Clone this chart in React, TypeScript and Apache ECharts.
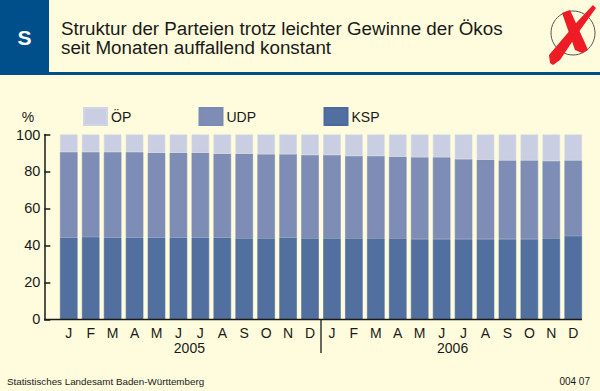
import React, { useEffect, useRef } from "react";
import * as echarts from "echarts";

const months = ["J","F","M","A","M","J","J","A","S","O","N","D","J","F","M","A","M","J","J","A","S","O","N","D"];
const years = ["2005", "2006"];
const ksp = [44.2,44.5,44.2,44.2,44.2,44.2,44.2,44.2,43.7,43.7,44.2,43.7,43.7,43.7,43.7,43.7,43.4,43.4,43.4,43.4,43.4,43.4,43.7,45.1];
const kspUdp = [90.5,90.5,90.5,90.5,90.1,90.1,90.1,89.6,89.6,89.3,89.3,88.9,88.9,88.4,88.4,88,87.7,87.7,86.7,86.4,86,86,85.7,86];
const udp = kspUdp.map((v, i) => +(v - ksp[i]).toFixed(1));
const oep = kspUdp.map((v) => +(100 - v).toFixed(1));
const seriesNames = ["ÖP", "UDP", "KSP"];
const titleLines = ["Struktur der Parteien trotz leichter Gewinne der Ökos", "seit Monaten auffallend konstant"];
const font = "Liberation Sans";
const ink = "#1a1a1a";
const bg = "#fefcdc";
const blue = "#004f8a";

export default function App() {
  const ref = useRef<HTMLDivElement>(null);
  useEffect(() => {
    document.body.style.margin = "0";
    const chart = echarts.init(ref.current!, null, { renderer: "svg" });
    const legendAt = (name: string, left: number) => ({
      data: [name], left, top: 107, itemWidth: 23, itemHeight: 17, itemGap: 0, padding: 0, orient: "horizontal" as const,
      selectedMode: false, icon: "rect", textStyle: { fontFamily: font, fontSize: 14, color: ink, padding: [0, 0, 1, -1] },
    });
    const bar = (name: string, data: number[], color: string, edge: string) => ({
      name, type: "bar" as const, stack: "t", data, barWidth: 17.5, xAxisIndex: 0,
      itemStyle: { color, borderColor: edge, borderWidth: 0.6 },
    });
    chart.setOption({
      animation: false,
      backgroundColor: bg,
      textStyle: { fontFamily: font },
      title: { text: titleLines.join("\n"), left: 61, top: 18.5, padding: 0,
        textStyle: { fontFamily: font, fontSize: 18.8, lineHeight: 19, fontWeight: "normal", color: ink } },
      legend: [legendAt("ÖP", 83), legendAt("UDP", 198.5), legendAt("KSP", 323.5)],
      grid: { left: 57.8, top: 134.5, width: 526.4, height: 184.8 },
      xAxis: [
        { type: "category", data: months, axisLine: { show: false }, axisTick: { show: false },
          axisLabel: { interval: 0, margin: 7, fontFamily: font, fontSize: 14, color: ink } },
        { type: "category", position: "bottom", offset: 15, data: years, axisLine: { show: false }, axisTick: { show: false },
          axisLabel: { interval: 0, margin: 7, fontFamily: font, fontSize: 14, color: ink } },
      ],
      yAxis: {
        type: "value", min: 0, max: 100, interval: 20, offset: 13.5,
        name: "%", nameLocation: "end", nameGap: 11,
        nameTextStyle: { fontFamily: font, fontSize: 14, color: ink, align: "right", padding: [0, 10, 0, 0] },
        splitLine: { show: false },
        axisLine: { show: true, lineStyle: { color: ink, width: 1.5 } },
        axisTick: { show: true, inside: true, length: 6, lineStyle: { color: ink, width: 1.5 } },
        axisLabel: { margin: 4, fontFamily: font, fontSize: 14.5, color: ink },
      },
      series: [
        bar(seriesNames[2], ksp, "#52709f", "#4a699f"),
        bar(seriesNames[1], udp, "#7e8db6", "#7a8ab6"),
        bar(seriesNames[0], oep, "#c9cee2", "#d2d6e4"),
      ],
      graphic: [
        { type: "rect", silent: true, z: -1, shape: { x: 0, y: 0, width: 49, height: 72 }, style: { fill: blue } },
        { type: "rect", silent: true, shape: { x: 0, y: 72, width: 600, height: 3 }, style: { fill: blue } },
        { type: "text", x: 24.5, y: 37, style: { text: "S", fontFamily: font, fontSize: 21, fontWeight: "bold", fill: "#ffffff", align: "center", verticalAlign: "middle" } },
        { type: "circle", shape: { cx: 573, cy: 33, r: 22 }, style: { fill: "none", stroke: "#555550", lineWidth: 1 } },
        { type: "polygon", shape: { points: [[549,55],[577,22],[593,5],[596,8],[578,33],[560,60],[553,65],[550,63]] }, style: { fill: "#ee1c25" } },
        { type: "polygon", shape: { points: [[562,13],[570,10],[585,43],[588,50],[582,53],[575,50],[568,30]] }, style: { fill: "#ee1c25" } },
        { type: "line", shape: { x1: 44, y1: 319.5, x2: 582, y2: 319.5 }, style: { stroke: ink, lineWidth: 1.3 }, z: 10 },
        { type: "line", shape: { x1: 321, y1: 319.5, x2: 321, y2: 353 }, style: { stroke: ink, lineWidth: 1.3 } },
        { type: "text", x: 7, y: 381, style: { text: "Statistisches Landesamt Baden-Württemberg", fontFamily: font, fontSize: 9.8, fill: ink, verticalAlign: "middle" } },
        { type: "text", x: 590, y: 381, style: { text: "004 07", fontFamily: font, fontSize: 10, fill: ink, align: "right", verticalAlign: "middle" } },
      ],
    });
    return () => chart.dispose();
  }, []);
  return <div ref={ref} style={{ width: 600, height: 391 }} />;
}
